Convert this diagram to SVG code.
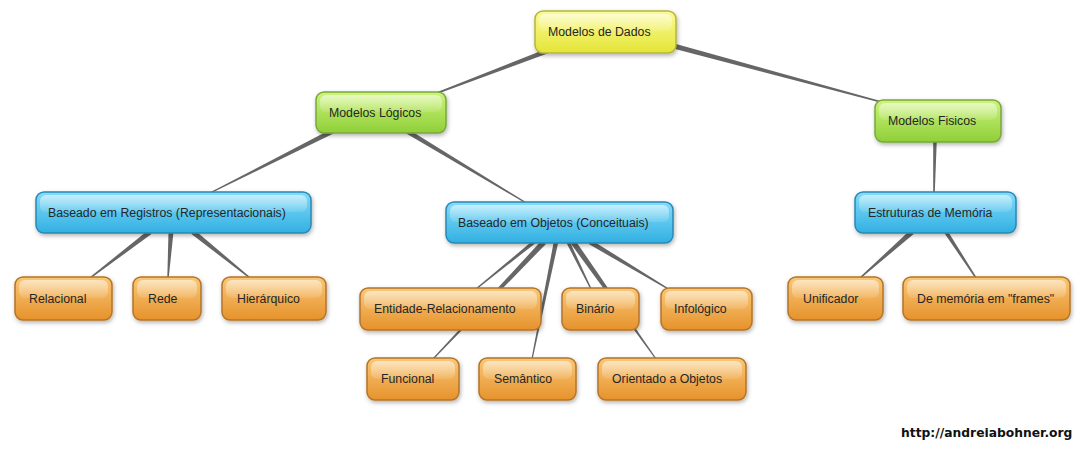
<svg xmlns="http://www.w3.org/2000/svg" width="1086" height="454" viewBox="0 0 1086 454">
<defs>
<linearGradient id="gy" x1="0" y1="0" x2="0" y2="1"><stop offset="0" stop-color="#fbfb9a"/><stop offset="1" stop-color="#e4e436"/></linearGradient>
<linearGradient id="gg" x1="0" y1="0" x2="0" y2="1"><stop offset="0" stop-color="#cdf47c"/><stop offset="1" stop-color="#8fcf38"/></linearGradient>
<linearGradient id="gb" x1="0" y1="0" x2="0" y2="1"><stop offset="0" stop-color="#84dcfa"/><stop offset="1" stop-color="#31b0e2"/></linearGradient>
<linearGradient id="go" x1="0" y1="0" x2="0" y2="1"><stop offset="0" stop-color="#fac878"/><stop offset="1" stop-color="#e6922c"/></linearGradient>
<linearGradient id="hl" x1="0" y1="0" x2="0" y2="1"><stop offset="0" stop-color="#fff" stop-opacity="0.55"/><stop offset="1" stop-color="#fff" stop-opacity="0.1"/></linearGradient>
<filter id="sh" x="-10%" y="-20%" width="130%" height="160%"><feDropShadow dx="1" dy="2" stdDeviation="2" flood-color="#000" flood-opacity="0.3"/></filter>
</defs>
<style>
.n rect.b{stroke-width:1.5;filter:url(#sh)}
.y rect.b{fill:url(#gy);stroke:#b5b53c}
.g rect.b{fill:url(#gg);stroke:#78a83c}
.c rect.b{fill:url(#gb);stroke:#2a88b4}
.o rect.b{fill:url(#go);stroke:#b47428}
rect.h{fill:url(#hl)}
text{font-family:"Liberation Sans",Arial,sans-serif;font-size:12.3px;fill:#262626}
.url{font-family:"DejaVu Sans",sans-serif;font-weight:bold;font-size:12.3px;fill:#111}
#edges polygon{fill:#666}
</style>
<g id="edges">
<polygon points="549.1,47.7 431.7,94.3 432.3,95.7 550.9,52.3"/>
<polygon points="669.35,47.41 884.8,103.72 885.2,102.28 670.65,42.59"/>
<polygon points="333.9,127.8 209.7,192.5 210.3,193.5 336.1,132.2"/>
<polygon points="403.7,132.1 527.7,204.5 528.3,203.5 406.3,127.9"/>
<polygon points="933.2,140 933.2,192 934.8,192 936.8,140"/>
<polygon points="910.3,230.1 859.5,277.4 860.5,278.6 913.7,233.9"/>
<polygon points="944.3,233.1 975.4,278.4 976.6,277.6 947.7,230.9"/>
<polygon points="148.5,230 89.5,277.4 90.5,278.6 151.5,234"/>
<polygon points="168.5,232 167.3,278 168.7,278 173.5,232"/>
<polygon points="191.4,234 249.5,278.6 250.5,277.4 194.6,230"/>
<polygon points="532.9,240.6 475.6,288.5 476.4,289.5 535.1,243.4"/>
<polygon points="542,240.1 432.6,358.6 433.4,359.4 546,243.9"/>
<polygon points="553.8,241.6 531.4,358.9 532.6,359.1 558.2,242.4"/>
<polygon points="566.4,242.8 590.4,289.3 591.6,288.7 569.6,241.2"/>
<polygon points="570.7,243.6 655.5,359.3 656.5,358.7 575.3,240.4"/>
<polygon points="588.7,244.1 669.6,290.6 670.4,289.4 591.3,239.9"/>
</g>
<g id="dados" class="n y"><rect class="b" x="535" y="11" width="141" height="42" rx="8"/><rect class="h" x="539" y="14" width="133" height="17" rx="6"/><text x="548" y="36">Modelos de Dados</text></g>
<g id="logicos" class="n g"><rect class="b" x="316" y="92" width="130" height="41" rx="8"/><rect class="h" x="320" y="95" width="122" height="17" rx="6"/><text x="329" y="117">Modelos Lógicos</text></g>
<g id="fisicos" class="n g"><rect class="b" x="875" y="100" width="126" height="42" rx="8"/><rect class="h" x="879" y="103" width="118" height="17" rx="6"/><text x="888" y="125">Modelos Fisicos</text></g>
<g id="registros" class="n c"><rect class="b" x="36" y="192" width="275" height="41" rx="8"/><rect class="h" x="40" y="195" width="267" height="17" rx="6"/><text x="48" y="217">Baseado em Registros (Representacionais)</text></g>
<g id="objetos" class="n c"><rect class="b" x="446" y="202" width="227" height="41" rx="8"/><rect class="h" x="450" y="205" width="219" height="17" rx="6"/><text x="458" y="227">Baseado em Objetos (Conceituais)</text></g>
<g id="estruturas" class="n c"><rect class="b" x="855" y="192" width="161" height="41" rx="8"/><rect class="h" x="859" y="195" width="153" height="17" rx="6"/><text x="868" y="217">Estruturas de Memória</text></g>
<g id="relacional" class="n o"><rect class="b" x="15" y="277" width="97" height="43" rx="8"/><rect class="h" x="19" y="280" width="89" height="18" rx="6"/><text x="29" y="303">Relacional</text></g>
<g id="rede" class="n o"><rect class="b" x="133" y="277" width="68" height="43" rx="8"/><rect class="h" x="137" y="280" width="60" height="18" rx="6"/><text x="148" y="303">Rede</text></g>
<g id="hierarquico" class="n o"><rect class="b" x="222" y="277" width="104" height="43" rx="8"/><rect class="h" x="226" y="280" width="96" height="18" rx="6"/><text x="237" y="303">Hierárquico</text></g>
<g id="entidade" class="n o"><rect class="b" x="360" y="288" width="181" height="42" rx="8"/><rect class="h" x="364" y="291" width="173" height="18" rx="6"/><text x="374" y="313">Entidade-Relacionamento</text></g>
<g id="binario" class="n o"><rect class="b" x="562" y="288" width="77" height="42" rx="8"/><rect class="h" x="566" y="291" width="69" height="18" rx="6"/><text x="576" y="313">Binário</text></g>
<g id="infologico" class="n o"><rect class="b" x="661" y="288" width="91" height="42" rx="8"/><rect class="h" x="665" y="291" width="83" height="18" rx="6"/><text x="674" y="313">Infológico</text></g>
<g id="funcional" class="n o"><rect class="b" x="367" y="358" width="92" height="42" rx="8"/><rect class="h" x="371" y="361" width="84" height="18" rx="6"/><text x="381" y="383">Funcional</text></g>
<g id="semantico" class="n o"><rect class="b" x="479" y="358" width="97" height="42" rx="8"/><rect class="h" x="483" y="361" width="89" height="18" rx="6"/><text x="494" y="383">Semântico</text></g>
<g id="orientado" class="n o"><rect class="b" x="598" y="358" width="148" height="42" rx="8"/><rect class="h" x="602" y="361" width="140" height="18" rx="6"/><text x="612" y="383">Orientado a Objetos</text></g>
<g id="unificador" class="n o"><rect class="b" x="788" y="277" width="95" height="43" rx="8"/><rect class="h" x="792" y="280" width="87" height="18" rx="6"/><text x="803" y="303">Unificador</text></g>
<g id="frames" class="n o"><rect class="b" x="903" y="277" width="167" height="43" rx="8"/><rect class="h" x="907" y="280" width="159" height="18" rx="6"/><text x="917" y="303">De memória em "frames"</text></g>
<text class="url" x="901" y="437">http://andreiabohner.org</text>
</svg>
